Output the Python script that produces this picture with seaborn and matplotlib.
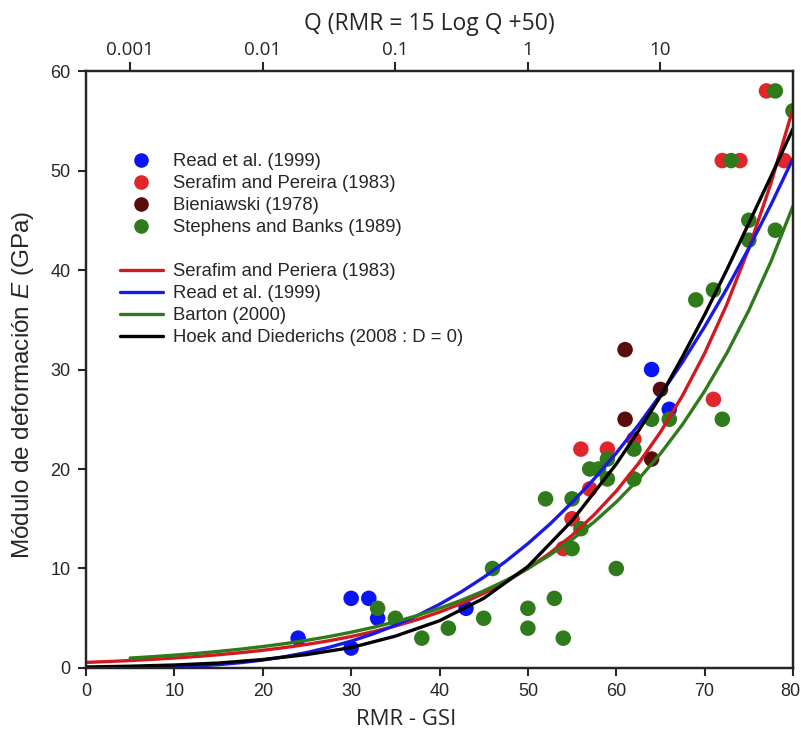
import numpy as np
import pandas as pd
import matplotlib
matplotlib.use("Agg")
import matplotlib.pyplot as plt
import matplotlib.transforms as mtransforms
from matplotlib.lines import Line2D
import seaborn as sns

# ---- measured deformation moduli (RMR/GSI, E in GPa) ----
read_rmr = [24, 30, 30, 32, 33, 43, 64, 66]
read_e = [3, 7, 2, 7, 5, 6, 30, 26]

serafim_rmr = [54, 55, 56, 59, 57, 62, 71, 72, 74, 77, 79]
serafim_e = [12, 15, 22, 22, 18, 23, 27, 51, 51, 58, 51]

bieniawski_rmr = [61, 65, 61, 64]
bieniawski_e = [32, 28, 25, 21]

stephens_rmr = [33, 35, 38, 41, 45, 46, 50, 50, 53, 54, 52, 55, 55, 56, 57, 58,
                59, 59, 60, 62, 62, 64, 66, 69, 71, 72, 73, 75, 75, 78, 78, 80]
stephens_e = [6, 5, 3, 4, 5, 10, 6, 4, 7, 3, 17, 17, 12, 14, 20, 20,
              21, 19, 10, 19, 22, 25, 25, 37, 38, 25, 51, 45, 43, 44, 58, 56]

# ---- empirical curves ----
curve_rmr = [0, 2.5, 5, 7.5, 10, 12.5, 15, 17.5, 20, 22.5, 25, 27.5, 30, 32.5,
             35, 37.5, 40, 42.5, 45, 47.5, 50, 52.5, 55, 57.5, 60, 62.5, 65,
             67.5, 70, 72.5, 75, 77.5, 80]
serafim_curve = [0.562, 0.649, 0.750, 0.866, 1.0, 1.155, 1.334, 1.540, 1.778,
                 2.054, 2.371, 2.738, 3.162, 3.652, 4.217, 4.870, 5.623, 6.494,
                 7.499, 8.660, 10.0, 11.55, 13.34, 15.40, 17.78, 20.54, 23.71,
                 27.38, 31.62, 36.52, 42.17, 48.70, 56.23]
read_curve = [0.0, 0.0016, 0.0125, 0.042, 0.1, 0.195, 0.3375, 0.536, 0.8, 1.139,
              1.5625, 2.080, 2.7, 3.433, 4.2875, 5.273, 6.4, 7.677, 9.1125,
              10.72, 12.5, 14.47, 16.64, 19.01, 21.6, 24.41, 27.46, 30.75, 34.3,
              38.11, 42.19, 46.55, 51.2]
barton_rmr = curve_rmr[2:]
barton_curve = [1.0, 1.136, 1.292, 1.468, 1.668, 1.896, 2.154, 2.448, 2.783,
                3.162, 3.594, 4.084, 4.642, 5.275, 5.995, 6.813, 7.743, 8.799,
                10.0, 11.36, 12.92, 14.68, 16.68, 18.96, 21.54, 24.48, 27.83,
                31.62, 35.94, 40.84, 46.42]
hoek_rmr = [0, 5, 10, 15, 20, 25, 30, 35, 40, 45, 50, 55, 60, 62.5, 65, 67.5,
            70, 72.5, 75, 77.5, 80]
hoek_curve = [0.1, 0.18, 0.3, 0.5, 0.85, 1.35, 2.05, 3.2, 4.75, 7.0, 10.2, 14.8,
              20.5, 23.8, 27.3, 31.3, 35.5, 40.0, 44.7, 49.4, 54.2]

# ---- Q scale on the top axis ----
q_ticks = [0.001, 0.01, 0.1, 1, 10]
q_labels = ["0.001", "0.01", "0.1", "1", "10"]

point_names = ["Read et al. (1999)", "Serafim and Pereira (1983)",
               "Bieniawski (1978)", "Stephens and Banks (1989)"]
point_colors = ["#0a14f5", "#e0252b", "#5a0c0c", "#2f7a1a"]
curve_names = ["Serafim and Periera (1983)", "Read et al. (1999) ",
               "Barton (2000)", "Hoek and Diederichs (2008 : D = 0)"]
curve_colors = ["#d11a1f", "#1a1ae6", "#2f7a1a", "#000000"]

points = pd.concat([
    pd.DataFrame({"RMR": read_rmr, "E": read_e, "fuente": point_names[0]}),
    pd.DataFrame({"RMR": serafim_rmr, "E": serafim_e, "fuente": point_names[1]}),
    pd.DataFrame({"RMR": bieniawski_rmr, "E": bieniawski_e, "fuente": point_names[2]}),
    pd.DataFrame({"RMR": stephens_rmr, "E": stephens_e, "fuente": point_names[3]}),
], ignore_index=True)

curves = pd.concat([
    pd.DataFrame({"RMR": curve_rmr, "E": serafim_curve, "curva": curve_names[0]}),
    pd.DataFrame({"RMR": curve_rmr, "E": read_curve, "curva": curve_names[1]}),
    pd.DataFrame({"RMR": barton_rmr, "E": barton_curve, "curva": curve_names[2]}),
    pd.DataFrame({"RMR": hoek_rmr, "E": hoek_curve, "curva": curve_names[3]}),
], ignore_index=True)

sns.set_style("ticks")
plt.rcParams["font.family"] = ["Liberation Sans", "DejaVu Sans"]
plt.rcParams["mathtext.fontset"] = "custom"
plt.rcParams["mathtext.rm"] = "Liberation Sans"
plt.rcParams["mathtext.it"] = "Liberation Sans:italic"

fig = plt.figure(figsize=(8.01, 7.36), dpi=100)
ax = fig.add_axes([0.1074, 0.0924, 0.990 - 0.1074, 0.9035 - 0.0924])

sns.scatterplot(data=points, x="RMR", y="E", hue="fuente", hue_order=point_names,
                palette=point_colors, s=125, linewidth=0, marker="o",
                legend=False, ax=ax, zorder=2)
sns.lineplot(data=curves, x="RMR", y="E", hue="curva", hue_order=curve_names,
             palette=curve_colors, linewidth=2.4, estimator=None, sort=False,
             legend=False, ax=ax, zorder=3)

ax.set_xlim(0, 80)
ax.set_ylim(0, 60)
ax.set_xticks(range(0, 81, 10))
ax.set_yticks(range(0, 61, 10))
ax.set_xlabel("RMR - GSI", fontfamily="Open Sans", fontsize=16)
ax.xaxis.set_label_coords(0.453, -0.068)
ax.set_ylabel("Módulo de deformación $\\mathit{E}$ (GPa)",
              fontfamily="Liberation Sans", fontsize=17.5)
ax.yaxis.set_label_coords(-0.071, 0.475)
ax.tick_params(axis="both", direction="out", length=6, width=1.5,
               labelsize=13, pad=5)
for side in ["left", "bottom", "top", "right"]:
    ax.spines[side].set_visible(True)
    ax.spines[side].set_linewidth(1.6)
    ax.spines[side].set_color("black")

# keep the last bottom tick label inside the figure edge
last_label = ax.get_xticklabels()[-1]
last_label.set_transform(last_label.get_transform() +
                         mtransforms.ScaledTranslation(-3 / 100, 0, fig.dpi_scale_trans))

top = ax.twiny()
top.set_xlim(0, 80)
top.set_xticks([15 * np.log10(q) + 50 for q in q_ticks])
top.set_xticklabels(q_labels, fontfamily="Open Sans", fontsize=13.5)
top.tick_params(axis="x", direction="out", length=6.5, width=1.5, pad=2)
top.set_xlabel("Q (RMR = 15 Log Q +50)", fontfamily="Open Sans", fontsize=16.5,
               labelpad=5)
top.xaxis.set_label_coords(0.485, 1.068)
for side in ["left", "bottom", "top", "right"]:
    top.spines[side].set_linewidth(1.6)

handles = [Line2D([], [], linestyle="none", marker="o", markersize=10.5,
                  markerfacecolor=c, markeredgewidth=0) for c in point_colors]
handles.append(Line2D([], [], linestyle="none"))
handles += [Line2D([], [], color=c, linewidth=2.4) for c in curve_colors]
labels = point_names + [""] + curve_names
ax.legend(handles, labels, loc="upper left", bbox_to_anchor=(0.048, 0.862),
          frameon=False, fontsize=13.3, borderpad=0, borderaxespad=0,
          handlelength=2.33, handletextpad=0.54, labelspacing=0.27)

fig.savefig("out.png", dpi=100)
